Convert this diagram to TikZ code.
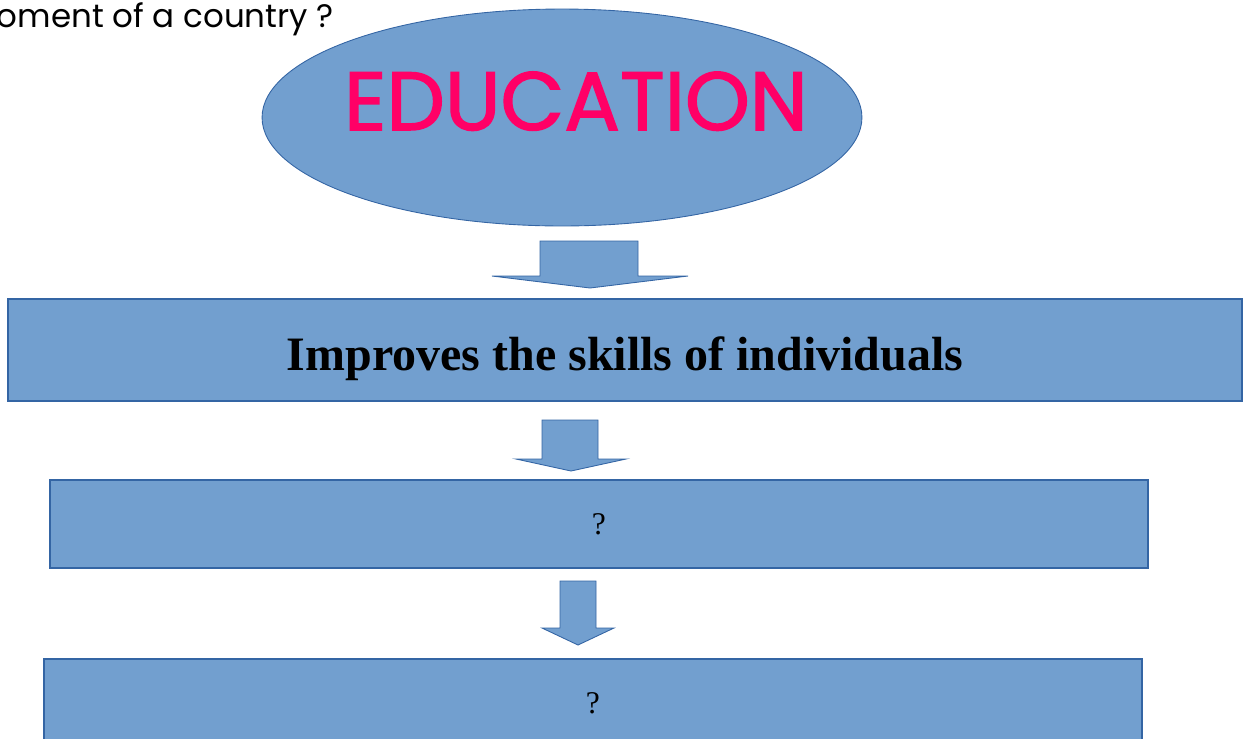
\documentclass[tikz,border=0pt]{standalone}
\usepackage{fontspec}
\setmainfont{Liberation Serif}
\newfontfamily\roundfont{Poppins}
\newfontfamily\edufont{Poppins}[FakeBold=1.8]
\usetikzlibrary{shapes.geometric,positioning}
\definecolor{boxblue}{HTML}{729FCF}
\definecolor{lineblue}{HTML}{3465A4}
\definecolor{titlepink}{HTML}{FF0066}

\begin{document}
\begin{tikzpicture}[x=0.02cm,y=-0.02cm]

\useasboundingbox (0,0) rectangle (1250,738);

% Title
\draw (334,27) node [anchor=base east, inner sep=0pt, font=\roundfont\fontsize{18.5}{22}\selectfont] (question) {oment of a country ?};

% Boxes
\draw (562,117.5) node [ellipse, fill=boxblue, draw=lineblue, line width=0.5pt, minimum width=12cm, minimum height=4.34cm, inner sep=0pt] (education) {};
\draw (576,130) node [anchor=base, inner sep=0pt, text=titlepink, font=\edufont\fontsize{47}{50}\selectfont] (educationText) {EDUCATION};
\draw (625,350) node [rectangle, fill=boxblue, draw=lineblue, line width=0.8pt, minimum width=24.68cm, minimum height=2.04cm, inner sep=0pt] (skills) {};
\draw (625,370) node [anchor=base, inner sep=0pt, font=\bfseries\fontsize{27.3}{30}\selectfont] (skillsText) {Improves the skills of individuals};
\draw (599,524) node [rectangle, fill=boxblue, draw=lineblue, line width=0.8pt, minimum width=21.96cm, minimum height=1.76cm, inner sep=0pt, font=\fontsize{18}{20}\selectfont] (stepTwo) {?};
\draw (593,703) node [rectangle, fill=boxblue, draw=lineblue, line width=0.8pt, minimum width=21.96cm, minimum height=1.76cm, inner sep=0pt, font=\fontsize{18}{20}\selectfont] (stepThree) {?};

% Arrows
\draw [fill=boxblue, draw=lineblue, line width=0.5pt] (540,241) -- (638,241) -- (638,276) -- (688,276) -- (590,288) -- (492,276) -- (540,276) -- cycle;
\draw [fill=boxblue, draw=lineblue, line width=0.5pt] (542,420) -- (598,420) -- (598,459) -- (626,459) -- (571,471) -- (516,459) -- (542,459) -- cycle;
\draw [fill=boxblue, draw=lineblue, line width=0.5pt] (560,581) -- (596,581) -- (596,628) -- (614,628) -- (578,645) -- (542,628) -- (560,628) -- cycle;
\end{tikzpicture}
\end{document}
